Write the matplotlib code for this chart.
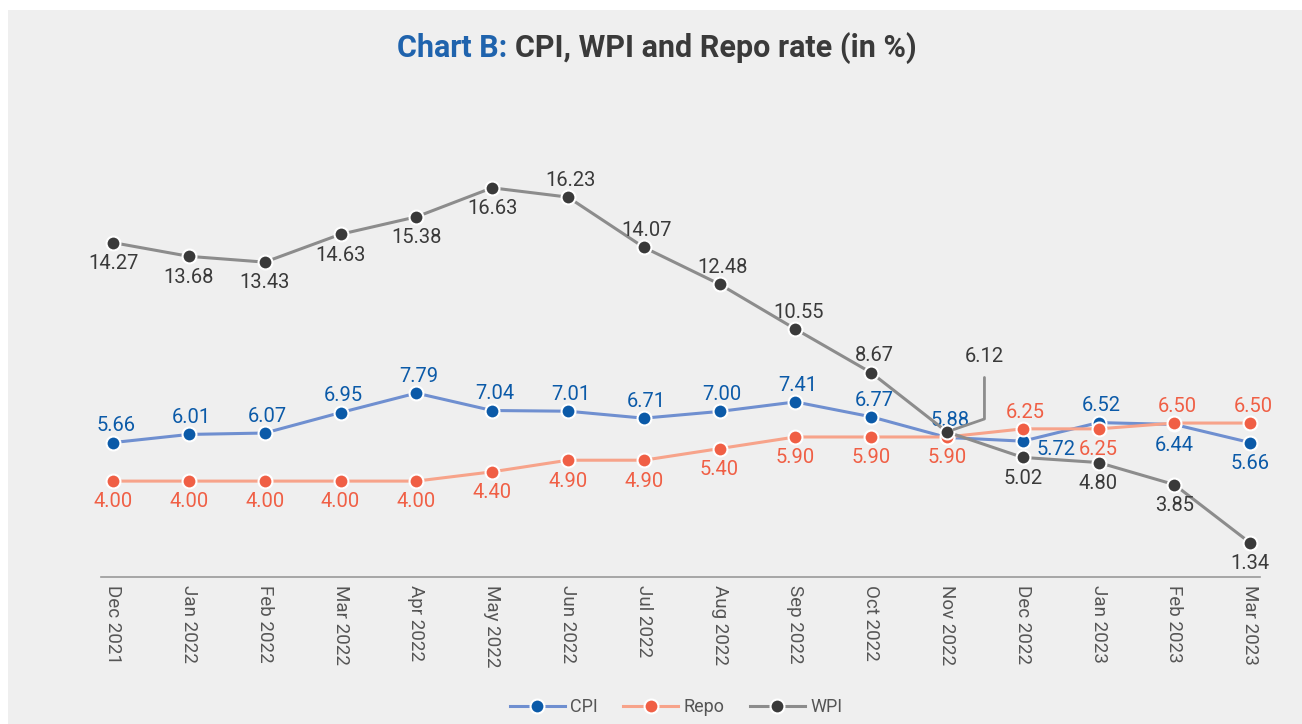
import numpy as np
import matplotlib.pyplot as plt
from matplotlib.patches import Rectangle

plt.rcParams['font.family'] = ['Roboto', 'DejaVu Sans']

months = ['Dec 2021', 'Jan 2022', 'Feb 2022', 'Mar 2022', 'Apr 2022', 'May 2022',
          'Jun 2022', 'Jul 2022', 'Aug 2022', 'Sep 2022', 'Oct 2022', 'Nov 2022',
          'Dec 2022', 'Jan 2023', 'Feb 2023', 'Mar 2023']
cpi = [5.66, 6.01, 6.07, 6.95, 7.79, 7.04, 7.01, 6.71, 7.00, 7.41, 6.77, 5.88,
       5.72, 6.52, 6.44, 5.66]
repo = [4.00, 4.00, 4.00, 4.00, 4.00, 4.40, 4.90, 4.90, 5.40, 5.90, 5.90, 5.90,
        6.25, 6.25, 6.50, 6.50]
wpi = [14.27, 13.68, 13.43, 14.63, 15.38, 16.63, 16.23, 14.07, 12.48, 10.55, 8.67,
       6.12, 5.02, 4.80, 3.85, 1.34]

# where each value label goes: a = above, b = below, r = below-right, L = leader line
cpi_pos = 'aaaaaaaaaaaarabb'
repo_pos = 'bbbbbbbbbbbbabaa'
wpi_pos = 'bbbbbbaaaaaLbbbb'

BG = '#efefef'
fig = plt.figure(figsize=(13.02, 7.24), dpi=100)
fig.patch.set_facecolor('white')
fig.patches.append(Rectangle((8 / 1302, 0), 1, 1 - 10 / 724, transform=fig.transFigure,
                             facecolor=BG, edgecolor='none', zorder=-10))

ymin, ymax = -0.13, 20
ax = fig.add_axes([101 / 1302, 1 - 577 / 724, (1260 - 101) / 1302,
                   (ymax - ymin) * 23.22 / 724])
ax.set_facecolor(BG)
x = np.arange(len(months))

series = [
    ('CPI', cpi, '#6f8fd0', '#0b5aa8', cpi_pos),
    ('Repo', repo, '#f7a38a', '#f05f45', repo_pos),
    ('WPI', wpi, '#8c8c8c', '#3a3a3a', wpi_pos),
]
for name, vals, lc, mc, pos in series:
    ax.plot(x, vals, color=lc, lw=2.2, marker='o', ms=10, mfc=mc, mec='white', mew=1.5,
            label=name, zorder=3)
    for xi, v, p in zip(x, vals, pos):
        txt = f'{v:.2f}'
        kw = dict(textcoords='offset points', ha='center', va='center', fontsize=14.5, color=mc)
        if p == 'a':
            ax.annotate(txt, (xi, v), xytext=(2, 12), **kw)
        elif p == 'b':
            ax.annotate(txt, (xi, v), xytext=(0, -15), **kw)
        elif p == 'r':
            ax.annotate(txt, (xi, v), xytext=(24, -6), **kw)
        elif p == 'L':
            ax.annotate(txt, (xi, v), xytext=(27, 54),
                        arrowprops=dict(arrowstyle='-', color='#8c8c8c', lw=2,
                                        connectionstyle='angle,angleA=90,angleB=19,rad=0',
                                        relpos=(0.5, 0), shrinkA=6, shrinkB=5), **kw)

ax.set_ylim(ymin, ymax)
ax.set_xlim(-0.16, 15.13)
ax.set_xticks(x)
ax.set_xticklabels(months, rotation=-90, fontsize=13.5, color='#555555')
ax.tick_params(axis='x', length=0, pad=6)
ax.set_yticks([])
for s in ['top', 'right', 'left']:
    ax.spines[s].set_visible(False)
ax.spines['bottom'].set_color('#999999')
ax.spines['bottom'].set_linewidth(1.2)

# two-colour title, centred as a whole
ty = 1 - 48 / 724
t1 = fig.text(0, ty, 'Chart B: ', ha='left', va='center', fontsize=22,
              fontweight='bold', color='#1f63ad')
t2 = fig.text(0, ty, 'CPI, WPI and Repo rate (in %)', ha='left', va='center',
              fontsize=22, fontweight='bold', color='#3a3a3a')
fig.canvas.draw()
r = fig.canvas.get_renderer()
w1 = t1.get_window_extent(r).width / fig.bbox.width
w2 = t2.get_window_extent(r).width / fig.bbox.width
x0 = 657 / 1302 - (w1 + w2) / 2
t1.set_x(x0)
t2.set_x(x0 + w1)

leg = fig.legend(loc='center', bbox_to_anchor=(676 / 1302, 1 - 707 / 724), ncol=3,
                 frameon=False, fontsize=13, handlelength=3.05, columnspacing=1.4,
                 handletextpad=0.3)
for txt in leg.get_texts():
    txt.set_color('#555555')

fig.savefig('out.png', dpi=100, facecolor=fig.get_facecolor())
